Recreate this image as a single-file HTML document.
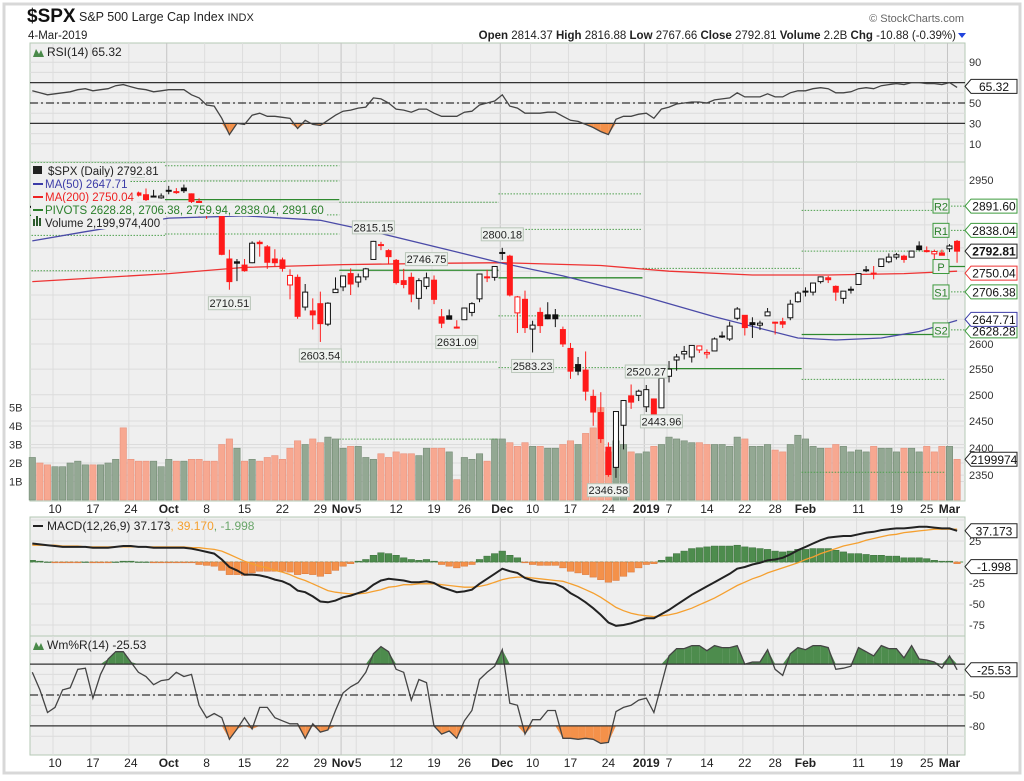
<!DOCTYPE html>
<html><head><meta charset="utf-8"><title>$SPX chart</title>
<style>
html,body{margin:0;padding:0;background:#fff;}
body{width:1024px;height:776px;overflow:hidden;font-family:"Liberation Sans",Arial,sans-serif;}
svg text{font-family:"Liberation Sans",Arial,sans-serif;}
</style></head>
<body>
<svg id="chart" width="1024" height="776" viewBox="0 0 1024 776" xmlns="http://www.w3.org/2000/svg">
<rect x="4" y="4" width="1016" height="769" fill="#fff" stroke="#d8d8d8" stroke-width="3"/>
<g>
<text x="27" y="22" font-size="19" font-weight="bold" fill="#111">$SPX</text>
<text x="79" y="21" font-size="12.5" fill="#222">S&amp;P 500 Large Cap Index <tspan font-size="11">INDX</tspan></text>
<text x="28" y="39" font-size="11.5" fill="#222">4-Mar-2019</text>
<text x="964" y="22" font-size="11" fill="#666" text-anchor="end">© StockCharts.com</text>
<text x="956" y="39" font-size="11.5" fill="#222" text-anchor="end"><tspan font-weight="bold">Open</tspan> 2814.37 <tspan font-weight="bold">High</tspan> 2816.88 <tspan font-weight="bold">Low</tspan> 2767.66 <tspan font-weight="bold">Close</tspan> 2792.81 <tspan font-weight="bold">Volume</tspan> 2.2B <tspan font-weight="bold">Chg</tspan> -10.88 (-0.39%)</text>
<polygon points="958,33 966,33 962,38" fill="#2244dd"/>
</g>
<g id="panels"></g>
</svg>
<script>
// ---------- DATA ----------
const dayLabels=["Sep 5","Sep 6","Sep 7","Sep 10","Sep 11","Sep 12","Sep 13","Sep 14","Sep 17","Sep 18","Sep 19","Sep 20","Sep 21","Sep 24","Sep 25","Sep 26","Sep 27","Sep 28",
"Oct 1","Oct 2","Oct 3","Oct 4","Oct 5","Oct 8","Oct 9","Oct 10","Oct 11","Oct 12","Oct 15","Oct 16","Oct 17","Oct 18","Oct 19","Oct 22","Oct 23","Oct 24","Oct 25","Oct 26","Oct 29","Oct 30","Oct 31",
"Nov 1","Nov 2","Nov 5","Nov 6","Nov 7","Nov 8","Nov 9","Nov 12","Nov 13","Nov 14","Nov 15","Nov 16","Nov 19","Nov 20","Nov 21","Nov 23","Nov 26","Nov 27","Nov 28","Nov 29","Nov 30",
"Dec 3","Dec 4","Dec 6","Dec 7","Dec 10","Dec 11","Dec 12","Dec 13","Dec 14","Dec 17","Dec 18","Dec 19","Dec 20","Dec 21","Dec 24","Dec 26","Dec 27","Dec 28","Dec 31",
"Jan 2","Jan 3","Jan 4","Jan 7","Jan 8","Jan 9","Jan 10","Jan 11","Jan 14","Jan 15","Jan 16","Jan 17","Jan 18","Jan 22","Jan 23","Jan 24","Jan 25","Jan 28","Jan 29","Jan 30","Jan 31",
"Feb 1","Feb 4","Feb 5","Feb 6","Feb 7","Feb 8","Feb 11","Feb 12","Feb 13","Feb 14","Feb 15","Feb 19","Feb 20","Feb 21","Feb 22","Feb 25","Feb 26","Feb 27","Feb 28","Mar 1","Mar 4"];
const opens=[2891,2889,2869,2882,2871,2889,2897,2906,2903,2891,2906,2919,2937,2926,2921,2917,2912,2910,
2927,2924,2932,2919,2902,2877,2883,2874,2776,2770,2763,2768,2812,2802,2776,2774,2721,2737,2675,2667,2682,2640,2705,
2717,2745,2727,2738,2775,2807,2794,2773,2730,2737,2693,2718,2731,2655,2657,2634,2649,2664,2692,2736,2737,
2790,2782,2663,2691,2630,2664,2659,2659,2629,2591,2559,2548,2497,2466,2401,2364,2442,2498,2499,
2477,2492,2475,2536,2568,2580,2574,2588,2580,2586,2614,2610,2652,2658,2643,2638,2657,2644,2645,2653,2686,
2708,2706,2728,2736,2718,2693,2712,2722,2752,2744,2760,2770,2780,2782,2780,2804,2793,2787,2789,2798,2814];
const highs=[2894,2892,2884,2887,2893,2895,2906,2908,2905,2912,2912,2934,2941,2927,2924,2931,2928,2920,
2937,2932,2940,2920,2909,2894,2894,2879,2796,2776,2776,2814,2816,2806,2797,2779,2754,2743,2723,2693,2707,2685,2737,
2741,2756,2745,2757,2815,2813,2797,2776,2755,2747,2735,2747,2741,2671,2670,2648,2674,2685,2744,2753,2760,
2800,2785,2698,2709,2647,2674,2685,2671,2635,2602,2574,2585,2510,2505,2410,2468,2490,2520,2510,
2519,2493,2538,2566,2580,2596,2597,2597,2589,2613,2625,2645,2675,2658,2654,2647,2673,2645,2653,2690,2708,
2716,2725,2739,2740,2720,2708,2718,2745,2761,2761,2776,2788,2789,2785,2794,2814,2803,2796,2796,2808,2817];
const lows=[2876,2867,2864,2872,2865,2880,2896,2895,2886,2890,2903,2919,2928,2912,2913,2903,2911,2908,
2918,2919,2921,2893,2869,2863,2875,2784,2711,2729,2749,2767,2781,2755,2760,2749,2691,2651,2668,2629,2604,2636,2705,
2708,2700,2716,2731,2775,2795,2765,2722,2714,2685,2670,2712,2681,2632,2650,2631,2649,2656,2685,2727,2730,
2774,2697,2622,2622,2583,2622,2650,2634,2594,2531,2538,2489,2441,2409,2347,2345,2397,2473,2488,
2467,2444,2475,2524,2547,2569,2563,2582,2571,2586,2612,2606,2648,2617,2612,2628,2657,2619,2632,2648,2684,
2697,2699,2724,2725,2688,2682,2703,2722,2748,2733,2760,2767,2775,2768,2780,2794,2790,2776,2784,2791,2768];
const closes=[2889,2878,2872,2877,2888,2889,2904,2905,2889,2904,2908,2931,2930,2919,2916,2906,2914,2914,
2925,2923,2926,2902,2886,2884,2880,2786,2728,2767,2751,2810,2809,2769,2768,2756,2741,2656,2706,2659,2641,2683,2712,
2740,2723,2738,2755,2814,2807,2781,2726,2722,2702,2730,2736,2691,2642,2650,2633,2673,2682,2744,2738,2760,
2790,2700,2696,2633,2638,2637,2651,2651,2600,2546,2546,2507,2467,2417,2351,2468,2489,2486,2507,
2510,2448,2532,2550,2574,2585,2597,2596,2583,2610,2616,2636,2671,2633,2639,2642,2665,2644,2640,2681,2704,
2707,2725,2738,2732,2706,2708,2710,2745,2753,2746,2776,2780,2785,2775,2793,2796,2794,2792,2784,2804,2792.81];
const volumesB=[2.3,2.0,1.9,1.8,1.8,2.0,2.1,1.9,1.9,1.9,2.0,2.2,3.9,2.2,2.1,2.1,2.1,1.8,
2.2,2.1,2.1,2.2,2.2,2.1,2.1,3.0,3.3,2.8,2.1,2.2,2.1,2.3,2.4,2.2,2.8,3.2,3.0,3.3,3.1,3.4,3.3,
2.8,2.9,2.9,2.3,2.2,2.5,2.3,2.6,2.5,2.5,2.4,2.8,2.8,2.8,2.6,1.1,2.3,2.2,2.5,2.1,3.3,
3.3,3.1,2.9,3.1,2.9,2.9,2.8,2.8,3.0,3.2,3.0,3.6,3.9,5.0,2.6,3.2,3.0,2.6,2.5,
2.6,2.9,3.0,3.4,3.3,3.2,3.1,3.1,3.0,3.0,3.0,2.9,3.4,3.3,2.9,2.9,3.0,2.7,2.6,3.0,3.5,
3.3,2.9,2.8,2.8,3.0,2.9,2.6,2.7,2.6,2.9,2.8,2.8,2.6,2.8,2.8,2.6,2.9,2.6,2.9,2.9,2.2];
const ma50Idx=[0,7,18,28,38,45,55,62,70,80,90,101,106,112,117,122];
const ma50Val=[2815,2835,2865,2870,2860,2835,2795,2767,2740,2700,2655,2612,2608,2612,2625,2647.71];
const ma200Idx=[0,18,28,41,55,62,75,84,95,105,115,122];
const ma200Val=[2728,2745,2758,2764,2767,2768,2762,2750,2742,2742,2745,2750.04];
const rsi=[62,60,58,59,60,61,63,64,62,63,64,67,68,66,64,63,61,62,
63,63,63,58,55,48,47,35,19,30,29,38,40,37,37,36,35,25,33,29,28,33,38,
42,43,45,46,55,54,50,44,43,41,44,44,40,37,37,37,41,42,48,50,52,
58,47,45,40,40,40,41,41,37,33,32,29,26,22,19,34,37,37,39,
40,35,44,46,49,50,51,51,50,53,54,55,60,56,56,56,59,56,56,60,62,
62,64,65,64,60,60,61,64,65,64,67,68,69,68,70,70,69,69,68,70,65.32];
const macd=[22,21,20,19,18,18,18,18,17,17,17,18,19,19,18,18,17,17,
17,17,17,16,14,12,10,3,-6,-10,-15,-15,-16,-18,-21,-23,-27,-34,-36,-41,-47,-48,-46,
-42,-40,-37,-34,-27,-22,-20,-21,-22,-24,-24,-23,-25,-30,-33,-36,-35,-33,-26,-20,-14,
-8,-11,-13,-19,-22,-24,-25,-26,-30,-37,-42,-48,-55,-63,-72,-76,-75,-73,-70,
-67,-67,-62,-57,-51,-45,-39,-34,-29,-24,-19,-14,-8,-6,-3,-1,2,3,5,9,14,
18,22,26,29,30,31,31,33,35,36,38,39,40,40,41,42,42,41,40,40,37.173];
const signal=[20,20,20,20,19,19,19,18,18,18,18,18,18,18,18,18,18,18,
18,18,18,17,17,16,15,13,9,5,1,-2,-5,-7,-10,-12,-15,-19,-22,-26,-30,-34,-36,
-37,-38,-38,-37,-35,-33,-30,-29,-27,-27,-26,-26,-26,-27,-28,-29,-30,-30,-29,-27,-24,
-21,-19,-18,-18,-19,-20,-21,-22,-23,-26,-29,-33,-37,-42,-48,-54,-58,-61,-63,
-64,-65,-64,-63,-61,-58,-55,-51,-47,-43,-38,-33,-28,-24,-20,-17,-13,-10,-7,-4,-1,
3,6,10,13,16,19,21,23,26,28,30,32,33,35,36,37,38,39,39,39,39.17];
const willR=[-28,-45,-67,-62,-45,-43,-25,-24,-53,-30,-15,-8,-8,-18,-28,-32,-40,-36,
-35,-28,-32,-30,-60,-72,-68,-72,-93,-83,-72,-83,-62,-62,-72,-75,-78,-78,-92,-78,-86,-84,-65,
-48,-42,-38,-28,-10,-3,-8,-25,-28,-55,-35,-38,-80,-88,-85,-92,-75,-65,-35,-28,-22,
-6,-58,-60,-88,-74,-74,-65,-65,-92,-92,-93,-92,-93,-97,-96,-66,-62,-60,-55,
-53,-67,-40,-12,-5,-5,-2,-2,-7,-2,-4,-4,-2,-20,-18,-18,-6,-25,-31,-10,-4,
-6,-2,-2,-4,-25,-24,-22,-4,-8,-12,-2,-5,-5,-14,-2,-15,-16,-18,-24,-12,-25.53];
const pivotStart=[0,18,41,62,81,102];
const pivotEnd=[17,40,61,80,101,120];
const pivotS2=[2751,2830,2416,2553,2098,2355];
const pivotS1=[2827,2872,2564,2657,2302,2530];
const pivotP=[2871,2906,2752,2736,2551,2619];
const pivotR1=[2947,2948,2900,2840,2756,2793];
const pivotR2=[2991,2983,3088,2919,3005,2882];
const marchPivotNames=["S2","S1","P","R1","R2"];
const marchPivotVals=[2628.28,2706.38,2759.94,2838.04,2891.60];
const calloutIdx=[12,26,38,45,52,62,66,76,81,83,56];
const calloutVal=[2816.94,2710.51,2603.54,2815.15,2746.75,2800.18,2583.23,2346.58,2520.27,2443.96,2631.09];
const calloutAbove=[1,0,0,1,1,1,0,0,1,0,0];
const xTickText=["10","17","24","Oct","8","15","22","29","Nov","5","12","19","26","Dec","10","17","24","2019","7","14","22","28","Feb","11","19","25","Mar"];
const xTickIdx=[3,8,13,18,23,28,33,38,41,43,48,53,57,62,66,71,76,81,84,89,94,98,102,109,114,118,121];
const monthStartIdx=[18,41,62,81,102,121];
const priceTicks=[2950,2600,2550,2500,2450,2400,2350];
const volTicks=[1,2,3,4,5];
const rsiTicks=[90,50,30,10];
const macdTicks=[25,-25,-50,-75];
const wrTicks=[-50,-80];

// ---------- GEOMETRY ----------
const NS="http://www.w3.org/2000/svg";
const L=30,R=965;
const xI=i=>32.3+i*7.58;
const yP=p=>10542.6-1297*Math.log(p);
const yV=v=>500-v*18.5;
const yRSI=v=>103-(v-50)*1.02;
const yM=v=>562-v*0.84;
const yW=v=>695-(v+50)*1.03;
const root=document.getElementById('panels');
function el(tag,attrs,parent){const e=document.createElementNS(NS,tag);for(const k in attrs)e.setAttribute(k,attrs[k]);(parent||root).appendChild(e);return e;}
function txt(s,x,y,size,fill,anchor,parent,weight){const t=el('text',{x:x,y:y,'font-size':size,fill:fill,'text-anchor':anchor||'start'},parent);if(weight)t.setAttribute('font-weight',weight);t.textContent=s;return t;}
function path(pts){return pts.map((p,i)=>(i?'L':'M')+p[0].toFixed(1)+','+p[1].toFixed(1)).join('');}

const panelDefs=[["rsi-panel",43,162],["price-panel",162,501],["macd-panel",517,636],["williams-panel",636,755]];
const panels={};
panelDefs.forEach(d=>{
  const g=el('g',{});
  
  
  const bg=el('rect',{x:L,y:d[1],width:R-L,height:d[2]-d[1],fill:'#efefef',stroke:'#b5c9b5','stroke-width':1},g);
  
  
  xTickIdx.forEach((ix,k)=>{
    const isM=monthStartIdx.indexOf(ix)>=0;
    const ln=el('line',{x1:xI(ix)-2,x2:xI(ix)-2,y1:d[1],y2:d[2],stroke:isM?'#c4c4c4':'#dddddd','stroke-width':1},g);
    
    
  });
  panels[d[0]]=g;
});
function hgrid(g,y){const ln=el('line',{x1:L,x2:R,y1:y,y2:y,stroke:'#dcdcdc','stroke-width':1},g);}
function clipFor(id,y1,y2){const c=el('clipPath',{id:id});el('rect',{x:L,y:y1,width:R-L,height:y2-y1},c);}
clipFor('cpRsi',43,162);clipFor('cpMain',162,501);clipFor('cpMacd',517,636);clipFor('cpW',636,755);

// ---------- RSI ----------
(function(){
  const g=panels['rsi-panel'];
  [10,20,30,40,50,60,70,80,90].forEach(v=>hgrid(g,yRSI(v)));
  const pts=rsi.map((v,i)=>[xI(i),yRSI(v)]);
  for(let i=0;i<rsi.length-1;i++){
    const a=rsi[i],b=rsi[i+1];
    if(a<30||b<30){
      const f=el('polygon',{points:`${xI(i)},${yRSI(Math.min(a,30))} ${xI(i+1)},${yRSI(Math.min(b,30))} ${xI(i+1)},${yRSI(30)} ${xI(i)},${yRSI(30)}`,fill:'#f4914a'},g);
      
      
    }
  }
  [[70,'none'],[30,'none'],[50,'8,3,2,3']].forEach(d=>{
    const ln=el('line',{x1:L,x2:R,y1:yRSI(d[0]),y2:yRSI(d[0]),stroke:'#333','stroke-width':1.2,'stroke-dasharray':d[1]},g);
    
    
  });
  const p=el('path',{d:path(pts),fill:'none',stroke:'#444','stroke-width':1.3,'clip-path':'url(#cpRsi)'},g);
  
  
  rsiTicks.forEach(v=>{const t=txt(String(v),969,yRSI(v)+4,11,'#333','start',g);});
  const lg=txt('RSI(14) 65.32',47,56,12,'#222','start',g);
  
  
  const ic=el('polygon',{points:'33,57 36,49 39,54 41,50 44,57',fill:'#4a8a4a'},g);
  
  
})();

// ---------- MAIN PRICE ----------
(function(){
  const g=panels['price-panel'];
  [2350,2400,2450,2500,2550,2600,2650,2700,2750,2800,2850,2900,2950].forEach(v=>hgrid(g,yP(v)));
  [1,2,3,4,5].forEach(v=>hgrid(g,yV(v)));
  volumesB.forEach((v,i)=>{
    const up=i===0?true:closes[i]>=closes[i-1];
    const b=el('rect',{x:xI(i)-3.2,y:yV(v),width:6.4,height:500-yV(v),fill:up?'#93a893':'#f7a891',stroke:up?'#748a74':'#e8917c','stroke-width':0.6},g);
    
    
  });
  const cg=el('g',{'clip-path':'url(#cpMain)'},g);
  pivotStart.forEach((s,k)=>{
    const x1=xI(s)-3.8,x2=xI(pivotEnd[k])+3.8;
    [[pivotS2[k],0],[pivotS1[k],0],[pivotP[k],1],[pivotR1[k],0],[pivotR2[k],0]].forEach(pv=>{
      const ln=el('line',{x1:x1,x2:x2,y1:yP(pv[0]),y2:yP(pv[0]),stroke:pv[1]?'#2f8a2f':'#4ea04e','stroke-width':pv[1]?1.3:1,'stroke-dasharray':pv[1]?'none':'1.5,1.5'},cg);
      
      
    });
  });
  const m200=el('path',{d:path(ma200Idx.map((ix,k)=>[xI(ix),yP(ma200Val[k])])),fill:'none',stroke:'#ee3333','stroke-width':1.3},cg);
  
  
  const m50=el('path',{d:path(ma50Idx.map((ix,k)=>[xI(ix),yP(ma50Val[k])])),fill:'none',stroke:'#4b4ba8','stroke-width':1.3},cg);
  
  
  closes.forEach((c,i)=>{
    const o=opens[i],h=highs[i],lo=lows[i];
    const down=i>0&&c<closes[i-1];
    const col=down?'#ff1a1a':'#111';
    const x=xI(i);
    const w=el('line',{x1:x,x2:x,y1:yP(h),y2:yP(lo),stroke:col,'stroke-width':1},cg);
    
    
    const top=yP(Math.max(o,c)),bot=yP(Math.min(o,c));
    const bd=el('rect',{x:x-2.5,y:top,width:5,height:Math.max(1,bot-top),fill:c<o?col:'#fff',stroke:col,'stroke-width':1},cg);
    
    
  });
  calloutIdx.forEach((ix,k)=>{
    const v=calloutVal[k],x=xI(ix);
    const yb=calloutAbove[k]?yP(highs[ix])-20:yP(lows[ix])+7;
    const cgp=el('g',{},g);
    
    
    el('rect',{x:x-21,y:yb,width:42,height:13,fill:'#eef1ee',stroke:'#b9c6b9','stroke-width':1},cgp);
    txt(v.toFixed(2),x,yb+10.5,11,'#222','middle',cgp);
  });
  const lgg=el('g',{},g);
  
  
  const items=[["$SPX (Daily) 2792.81","#222"],["MA(50) 2647.71","#3c3ca8"],["MA(200) 2750.04","#ee2222"],["PIVOTS 2628.28, 2706.38, 2759.94, 2838.04, 2891.60","#2b7f2b"],["Volume 2,199,974,400","#222"]];
  items.forEach((it,k)=>{
    const y=175+k*13;
    const bgr=el('rect',{x:31,y:y-11,width:10,height:13,fill:'#efefef'},lgg);
    
    
    const tx=k===0?48:45;
    const t=txt(it[0],tx,y,11.5,it[1],'start',lgg);
    
    
    let w=200;try{w=t.getComputedTextLength();}catch(e){}
    bgr.setAttribute('width',(tx-31)+w+3);
    if(k>=1&&k<=3){el('line',{x1:33,x2:43,y1:y-4,y2:y-4,stroke:it[1],'stroke-width':2},lgg);}
  });
  el('rect',{x:33,y:166,width:9,height:8,fill:'#222'},lgg);
  el('rect',{x:33,y:219,width:2,height:7,fill:'#2b5a2b'},lgg);el('rect',{x:36,y:216,width:2,height:10,fill:'#2b5a2b'},lgg);el('rect',{x:39,y:218,width:2,height:8,fill:'#2b5a2b'},lgg);
  priceTicks.forEach(v=>{const t=txt(String(v),969,yP(v)+4,11,'#333','start',g);});
  volTicks.forEach(v=>{const t=txt(v+'B',9,yV(v)+4,11,'#333','start',g);});
  marchPivotNames.forEach((n,k)=>{
    const y=yP(marchPivotVals[k]);
    const bg=el('g',{},g);
    
    
    if(n==='P'){el('line',{x1:xI(121)-3,x2:R,y1:y,y2:y,stroke:'#2f8a2f','stroke-width':1.3},bg);}
    else{el('line',{x1:945,x2:R,y1:y,y2:y,stroke:'#4ea04e','stroke-dasharray':'1.5,1.5'},bg);}
    el('rect',{x:933,y:y-7,width:16,height:14,fill:'#efefef',stroke:'#3c9a3c'},bg);
    txt(n,941,y+4.5,11,'#2b7f2b','middle',bg);
  });
})();

function tag(val,y,border,bold,name){
  const g=el('g',{});
  
  
  el('polygon',{points:`965,${y} 971,${y-7} 1017,${y-7} 1017,${y+7} 971,${y+7}`,fill:'#fff',stroke:border,'stroke-width':1},g);
  txt(val,994,y+4.5,12,'#111','middle',g,bold?'bold':null);
}
tag('2891.60',yP(2891.6),'#3c9a3c',0,'tag-r2');
tag('2838.04',yP(2838.04),'#3c9a3c',0,'tag-r1');
tag('2750.04',yP(2750.04)+2,'#ee3333',0,'tag-ma200');
tag('2792.81',yP(2792.81),'#222',1,'tag-close');
tag('2706.38',yP(2706.38),'#3c9a3c',0,'tag-s1');
tag('2628.28',yP(2628.28)+1,'#3c9a3c',0,'tag-s2');
tag('2647.71',yP(2647.71)-1,'#3c3ca8',0,'tag-ma50');
tag('2199974',yV(2.2),'#222',0,'tag-volume');
tag('65.32',yRSI(65.32)-1,'#222',0,'tag-rsi');
tag('37.173',yM(37.173),'#222',0,'tag-macd');
tag('-1.998',yM(-1.998)+3,'#222',0,'tag-macd-hist');
tag('-25.53',yW(-25.53),'#222',0,'tag-williams');

// ---------- MACD ----------
(function(){
  const g=panels['macd-panel'];
  [50,25,0,-25,-50,-75].forEach(v=>hgrid(g,yM(v)));
  const cg=el('g',{'clip-path':'url(#cpMacd)'},g);
  const z=el('line',{x1:L,x2:R,y1:yM(0),y2:yM(0),stroke:'#5a9a5a','stroke-dasharray':'3,2'},cg);
  
  
  macd.forEach((m,i)=>{
    const h=m-signal[i];
    const y1=Math.min(yM(0),yM(h)),y2=Math.max(yM(0),yM(h));
    const b=el('rect',{x:xI(i)-3.3,y:y1,width:6.6,height:Math.max(0.5,y2-y1),fill:h>=0?'#4d8c4d':'#f4914a',stroke:h>=0?'#3a6e3a':'#d8753a','stroke-width':0.5},cg);
    
    
  });
  const s=el('path',{d:path(signal.map((v,i)=>[xI(i),yM(v)])),fill:'none',stroke:'#f5a030','stroke-width':1.3},cg);
  
  
  const m=el('path',{d:path(macd.map((v,i)=>[xI(i),yM(v)])),fill:'none',stroke:'#222','stroke-width':2},cg);
  
  
  macdTicks.forEach(v=>{const t=txt(String(v),969,yM(v)+4,11,'#333','start',g);});
  const lg=el('text',{x:47,y:530,'font-size':12,fill:'#222'},g);
  
  
  lg.innerHTML='MACD(12,26,9) 37.173<tspan fill="#f5a030">, 39.170</tspan><tspan fill="#6aa66a">, -1.998</tspan>';
  el('line',{x1:33,x2:43,y1:526,y2:526,stroke:'#222','stroke-width':2},g);
})();

// ---------- Williams %R ----------
(function(){
  const g=panels['williams-panel'];
  [-10,-20,-30,-40,-50,-60,-70,-80,-90].forEach(v=>hgrid(g,yW(v)));
  const cg=el('g',{'clip-path':'url(#cpW)'},g);
  for(let i=0;i<willR.length-1;i++){
    const a=willR[i],b=willR[i+1];
    if(a>-20||b>-20){
      const f=el('polygon',{points:`${xI(i)},${yW(Math.max(a,-20))} ${xI(i+1)},${yW(Math.max(b,-20))} ${xI(i+1)},${yW(-20)} ${xI(i)},${yW(-20)}`,fill:'#4d8c4d'},cg);
      
      
    }
    if(a<-80||b<-80){
      const f=el('polygon',{points:`${xI(i)},${yW(Math.min(a,-80))} ${xI(i+1)},${yW(Math.min(b,-80))} ${xI(i+1)},${yW(-80)} ${xI(i)},${yW(-80)}`,fill:'#f4914a'},cg);
      
      
    }
  }
  [[-20,'none'],[-80,'none'],[-50,'8,3,2,3']].forEach(d=>{
    const ln=el('line',{x1:L,x2:R,y1:yW(d[0]),y2:yW(d[0]),stroke:'#333','stroke-width':1.2,'stroke-dasharray':d[1]},g);
    
    
  });
  const p=el('path',{d:path(willR.map((v,i)=>[xI(i),yW(v)])),fill:'none',stroke:'#444','stroke-width':1.3},cg);
  
  
  wrTicks.forEach(v=>{const t=txt(String(v),969,yW(v)+4,11,'#333','start',g);});
  const lg=txt('Wm%R(14) -25.53',47,649,12,'#222','start',g);
  
  
  const ic=el('polygon',{points:'33,650 36,642 39,647 41,643 44,650',fill:'#4a8a4a'},g);
  
  
})();

// ---------- X axes ----------
[513,767].forEach((y,a)=>{
  const g=el('g',{});
  
  
  xTickText.forEach((s,k)=>{
    const isM=monthStartIdx.indexOf(xTickIdx[k])>=0;
    const t=txt(s,xI(xTickIdx[k]),y,12,'#222','middle',g,isM?'bold':null);
    
    
  });
});
</script>
</body></html>
